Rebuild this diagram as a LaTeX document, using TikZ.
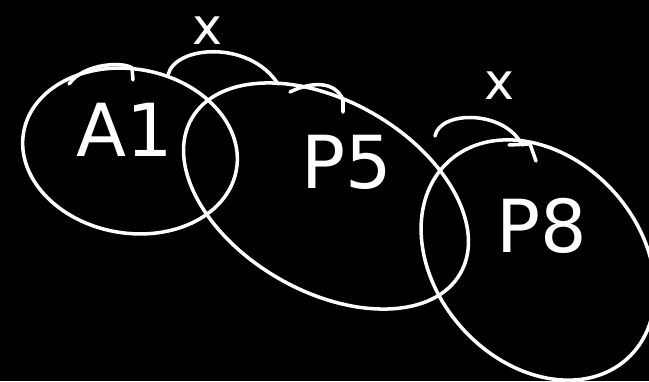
\documentclass[tikz,border=0pt]{standalone}
\usepackage{fontspec}
\setsansfont{DejaVu Sans}
\usetikzlibrary{shapes.geometric}
\tikzset{
  ink/.style={draw=white, line width=2.5pt, line cap=round},
  setoval/.style={ink, ellipse, inner sep=0pt},
  lbl/.style={text=white, font=\sffamily\fontsize{52}{52}\selectfont},
  crosslbl/.style={text=white, anchor=base, inner sep=0pt, font=\sffamily\fontsize{36}{36}\selectfont}
}
\begin{document}
\begin{tikzpicture}[x=0.025cm, y=-0.025cm]
        \fill[black] (0,0) rectangle (649,381);
        \useasboundingbox (0,0) rectangle (649,381);
        % Sets
        \node[setoval, minimum width=5.4cm, minimum height=4.1cm, rotate=-10] (a1) at (130,151) {};
        \node[setoval, minimum width=7.75cm, minimum height=4.75cm, rotate=-30] (p5) at (326,196) {};
        \node[setoval, minimum width=6.65cm, minimum height=5.1cm, rotate=-48] (p8) at (538,260) {};
        % Labels
        \node[lbl] (ta1) at (125,130) {A1};
        \node[lbl] (tp5) at (347,162) {P5};
        \node[lbl] (tp8) at (542,226) {P8};
        % Links between sets
        \coordinate (l1) at (168,75);
        \coordinate (r1) at (278,84);
        \coordinate (l2) at (435,136);
        \coordinate (r2) at (522,145);
        \draw[ink] (l1) .. controls (175,45) and (250,40) .. (r1);
        \draw[ink] (l2) .. controls (440,110) and (505,110) .. (r2);
        \node[crosslbl] (x1) at (207,45) {x};
        \node[crosslbl] (x2) at (499,99) {x};
        % Hooks
        \draw[ink] (69,84) .. controls (85,62) and (125,62) .. (132,68) -- (133,80);
        \draw[ink] (290,92) .. controls (310,82) and (335,80) .. (343,100) -- (343,112);
        \draw[ink] (509,145) -- (530,144) -- (536,161);
\end{tikzpicture}
\end{document}
